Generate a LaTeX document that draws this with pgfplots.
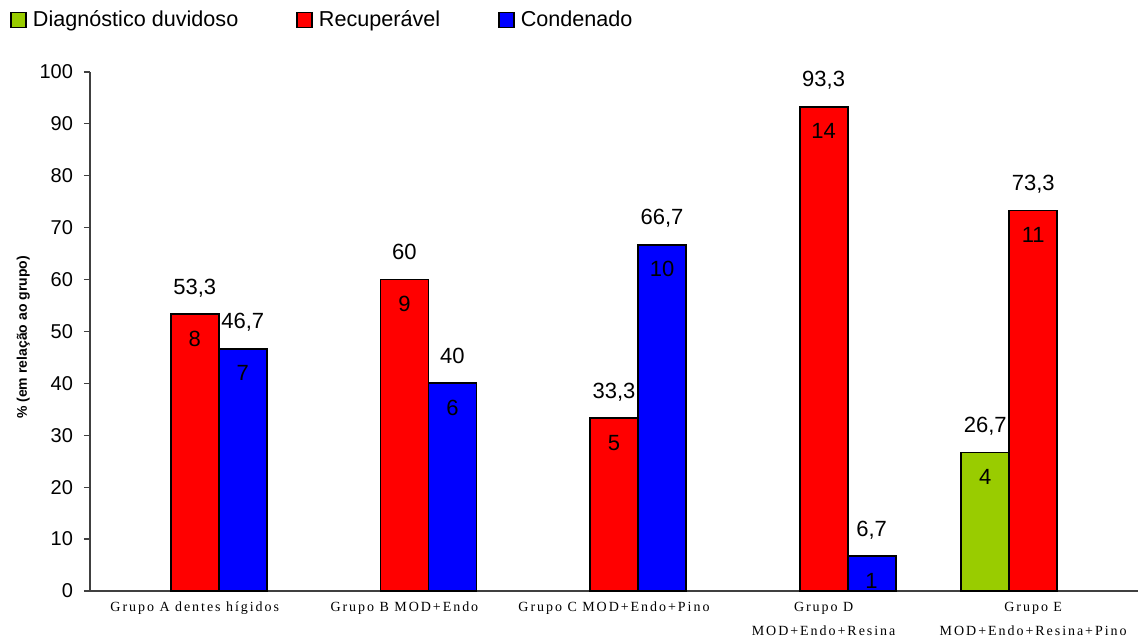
\documentclass[border=0pt]{standalone}
\usepackage{fontspec}
\setmainfont{Liberation Sans}
\newfontfamily\xfont[LetterSpace=14]{Liberation Serif}
\usepackage{pgfplots}
\usepackage{pgfplotstable}
\pgfplotsset{compat=1.18}

\definecolor{cgreen}{HTML}{99CC00}
\definecolor{cred}{HTML}{FF0000}
\definecolor{cblue}{HTML}{0000FF}

% x = group (A..E), y = percent, n = count
\pgfplotstableread{
x y n
4 26.7 4
}\datgreen
\pgfplotstableread{
x y n
0 53.3 8
1 60 9
2 33.3 5
3 93.3 14
4 73.3 11
}\datred
\pgfplotstableread{
x y n
0 46.7 7
1 40 6
2 66.7 10
3 6.7 1
}\datblue

\pgfplotsset{
  mybar/.style={ybar, bar width=0.229, bar shift=0, draw=black, line width=0.9pt,
    nodes near coords,
    every node near coord/.append style={anchor=base, yshift=10pt, font=\fontsize{11}{13}\selectfont, black},
    legend image code/.code={\draw[##1, line width=0.8pt] (0pt,-3.75pt) rectangle (7.5pt,3.75pt);}},
  mycount/.style={ybar, bar width=0.229, bar shift=0, draw=none, fill=none, forget plot,
    point meta=explicit, nodes near coords,
    every node near coord/.append style={anchor=base, yshift=-16pt, font=\fontsize{11}{13}\selectfont, black}},
}

\begin{document}
\begin{tikzpicture}
\path[use as bounding box] (-45pt,-25pt) rectangle (524pt,295.5pt);
\begin{axis}[
  at={(0,0)}, anchor=south west,
  scale only axis, width=524pt, height=259.5pt,
  xmin=-0.5, xmax=4.5, ymin=0, ymax=100,
  axis x line*=bottom, axis y line*=left,
  axis line style={black!75, line width=0.6pt},
  clip=false,
  ytick={0,10,...,100},
  tick align=outside,
  major tick length=3pt,
  ytick style={black!75, line width=0.6pt},
  xtick={0,...,4},
  xticklabels={Grupo A dentes hígidos, Grupo B MOD+Endo, Grupo C MOD+Endo+Pino,
    Grupo D\\MOD+Endo+Resina, Grupo E\\MOD+Endo+Resina+Pino},
  x tick style={draw=none},
  minor xtick={-0.5,0.5,...,4.5},
  minor x tick style={black!75, line width=0.6pt},
  minor tick length=4pt,
  x tick label style={font=\xfont\fontsize{7}{12}\selectfont, align=center, yshift=1pt},
  y tick label style={font=\fontsize{10}{12}\selectfont, xshift=-2pt},
  /pgf/number format/assume math mode=true,
  /pgf/number format/use comma,
  ylabel={\% (em relação ao grupo)},
  ylabel style={font=\bfseries\fontsize{7}{8}\selectfont, xshift=-3pt, yshift=-2pt},
  legend columns=3,
  legend style={at={(rel axis cs:0,1)}, anchor=west, xshift=-40pt, yshift=26pt,
    draw=none, fill=none, inner sep=0pt, font=\fontsize{10.8}{13}\selectfont,
    /tikz/every even column/.append style={column sep=27pt},
    /tikz/every odd column/.append style={column sep=1pt}},
]
\addplot[mybar, fill=cgreen] table[x expr=\thisrow{x}-0.229, y=y] {\datgreen};
\addplot[mycount] table[x expr=\thisrow{x}-0.229, y=y, meta=n] {\datgreen};
\addplot[mybar, fill=cred] table[x=x, y=y] {\datred};
\addplot[mycount] table[x=x, y=y, meta=n] {\datred};
\addplot[mybar, fill=cblue] table[x expr=\thisrow{x}+0.229, y=y] {\datblue};
\addplot[mycount] table[x expr=\thisrow{x}+0.229, y=y, meta=n] {\datblue};
\legend{Diagnóstico duvidoso, Recuperável, Condenado}
\end{axis}
\end{tikzpicture}
\end{document}
